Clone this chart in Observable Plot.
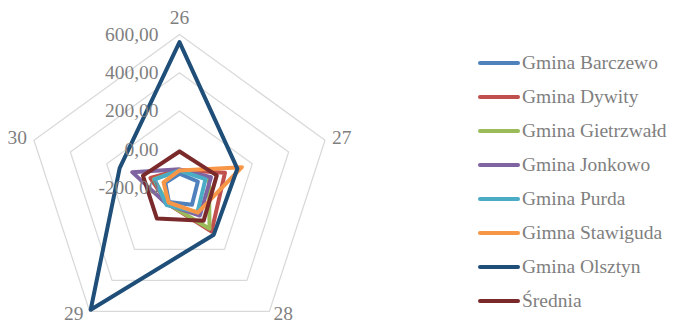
<!DOCTYPE html>
<html>
<head>
<meta charset="utf-8">
<script src="https://cdn.jsdelivr.net/npm/d3@7"></script>
<script src="https://cdn.jsdelivr.net/npm/@observablehq/plot@0.6"></script>
<style>
  body { margin: 0; background: #fff; }
  #chart { position: relative; width: 673px; height: 324px; font-family: "Liberation Serif", "Times New Roman", serif; }
  #chart svg { display: block; }
  #legend { position: absolute; left: 478px; top: 46px; }
  .item { display: flex; align-items: center; height: 34px; font-size: 19.5px; color: #7f7f7f; white-space: nowrap; }
  .sw { width: 42px; height: 4px; border-radius: 2px; margin-right: 2px; flex: none; }
</style>
</head>
<body>
<div id="chart"><div id="legend"></div></div>
<script>
// Category axes of the radar, clockwise from the top
const axes = ["26", "27", "28", "29", "30"];

// Series names (legend order = drawing order)
const series = ["Gmina Barczewo", "Gmina Dywity", "Gmina Gietrzwałd", "Gmina Jonkowo",
  "Gmina Purda", "Gimna Stawiguda", "Gmina Olsztyn", "Średnia"];
const colors = ["#4f81bd", "#c0504d", "#9bbb59", "#8064a2", "#4bacc6", "#f79646", "#1f4e79", "#7b2a2b"];

// Values per series, one per axis 26..30
const barczewo   = [-128, -99, -89, -106, -122];
const dywity     = [-108, 50, 85, -95, -40];
const gietrzwald = [-112, -38, 67, -95, -60];
const jonkowo    = [-105, -27, -19, -90, 60];
const purda      = [-111, -57, -40, -86, -63];
const stawiguda  = [-111, 143, -37, -103, -112];
const olsztyn    = [560, 118, 105, 590, 129];
const srednia    = [-12, 5, 15, 1, 1];
const values = [barczewo, dywity, gietrzwald, jonkowo, purda, stawiguda, olsztyn, srednia];

// Radial value axis
const rMin = -200, rMax = 600;
const ticks = [-200, 0, 200, 400, 600];
const gridRings = [0, 200, 400, 600];

const fmt = d3.formatLocale({decimal: ",", thousands: " ", grouping: [3], currency: ["", ""], minus: "-"}).format(".2f");

const angle = (i) => (i * 2 * Math.PI) / axes.length;
const px = (v, i) => (v - rMin) * Math.sin(angle(i));
const py = (v, i) => (v - rMin) * Math.cos(angle(i));

const points = series.flatMap((s, si) =>
  values[si].map((v, i) => ({series: s, axis: axes[i], x: px(v, i), y: py(v, i)})));
const grid = gridRings.flatMap((g) =>
  axes.map((a, i) => ({ring: g, x: px(g, i), y: py(g, i)})));

// Category label placement around the outer ring: anchor and pixel nudge
const labelStyle = [
  {textAnchor: "middle", dx: 0, dy: -17},
  {textAnchor: "start", dx: 7, dy: -2},
  {textAnchor: "start", dx: 4, dy: 2},
  {textAnchor: "end", dx: -6, dy: 2},
  {textAnchor: "end", dx: -7, dy: -2}
];

// Pixel geometry of the plot frame
const W = 673, H = 324, cx = 179, cy = 187;
const k = 153 / (rMax - rMin);

const chart = Plot.plot({
  width: W,
  height: H,
  margin: 0,
  style: {fontFamily: "'Liberation Serif', 'Times New Roman', serif", background: "transparent"},
  x: {type: "linear", domain: [-cx / k, (W - cx) / k], range: [0, W], axis: null},
  y: {type: "linear", domain: [-(H - cy) / k, cy / k], range: [H, 0], axis: null},
  color: {domain: series, range: colors},
  marks: [
    Plot.line(grid, {x: "x", y: "y", z: "ring", curve: "linear-closed", stroke: "#d9d9d9", strokeWidth: 1.25}),
    Plot.line(points, {x: "x", y: "y", z: "series", stroke: "series", curve: "linear-closed",
      strokeWidth: 4, strokeLinejoin: "round"}),
    Plot.text(ticks, {x: () => 0, y: (t) => t - rMin, text: (t) => fmt(t), textAnchor: "end", dx: -21,
      fill: "#7f7f7f", fontSize: 19.5}),
    ...axes.map((a, i) => Plot.text([a], {x: () => px(rMax, i), y: () => py(rMax, i), text: (d) => d,
      fill: "#7f7f7f", fontSize: 19.5, ...labelStyle[i]}))
  ]
});
document.getElementById("chart").prepend(chart);

const legend = d3.select("#legend");
series.forEach((s, i) => {
  const row = legend.append("div").attr("class", "item");
  row.append("span").attr("class", "sw").style("background", colors[i]);
  row.append("span").text(s);
});
</script>
</body>
</html>
